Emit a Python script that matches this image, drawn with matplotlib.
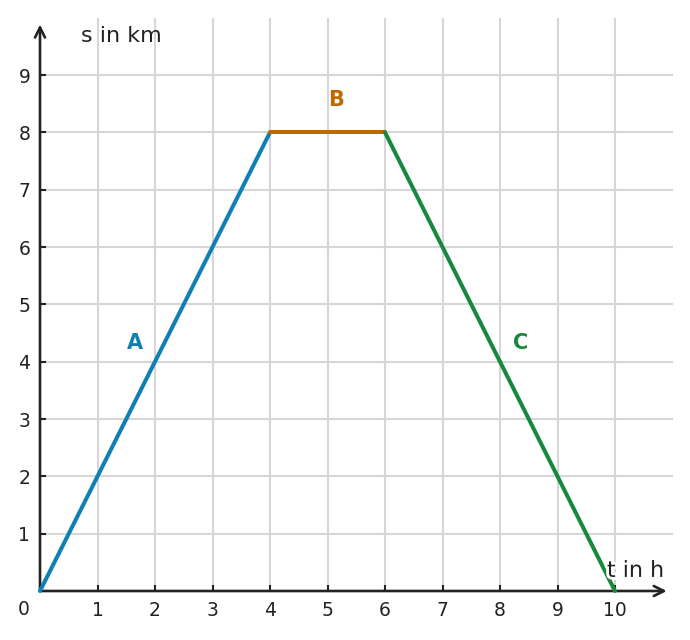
import matplotlib
matplotlib.use('Agg')
import matplotlib.pyplot as plt
import matplotlib.patheffects as pe

# Dados: trechos do movimento (tempo em h, distância em km)
t_a = [0, 4]
s_a = [0, 8]
t_b = [4, 6]
s_b = [8, 8]
t_c = [6, 10]
s_c = [8, 0]

x_ticks = [1, 2, 3, 4, 5, 6, 7, 8, 9, 10]
y_ticks = [1, 2, 3, 4, 5, 6, 7, 8, 9]

col_a = '#0f80b4'
col_b = '#bd6b00'
col_c = '#17883f'
axis_col = '#222222'

fig = plt.figure(figsize=(6.9, 6.4), dpi=100)
ax = fig.add_axes([40 / 690, 49 / 640, 632.5 / 690, 573.3 / 640])
ax.set_xlim(0, 11)
ax.set_ylim(0, 10)

for s in ax.spines.values():
    s.set_visible(False)

ax.set_xticks(x_ticks)
ax.set_yticks(y_ticks)
ax.tick_params(direction='in', length=4, width=1.5, color=axis_col,
               labelsize=13.5, labelcolor=axis_col, pad=7)
ax.grid(True, color='#d6d6d6', linewidth=1.5)
ax.set_axisbelow(True)

# Eixos com setas
ax.annotate('', xy=(10.9, 0), xytext=(0, 0), annotation_clip=False,
            arrowprops=dict(arrowstyle='->', color=axis_col, lw=1.9,
                            mutation_scale=18, shrinkA=0, shrinkB=0))
ax.annotate('', xy=(0, 9.88), xytext=(0, 0), annotation_clip=False,
            arrowprops=dict(arrowstyle='->', color=axis_col, lw=1.9,
                            mutation_scale=18, shrinkA=0, shrinkB=0))

lw = 2.9
ax.plot(t_a, s_a, color=col_a, lw=lw, solid_capstyle='round', zorder=3, clip_on=False)
ax.plot(t_b, s_b, color=col_b, lw=lw, solid_capstyle='round', zorder=3, clip_on=False)
ax.plot(t_c, s_c, color=col_c, lw=lw, solid_capstyle='round', zorder=3, clip_on=False)

ax.text(1.65, 4.33, 'A', color=col_a, fontsize=15, fontweight='bold', ha='center', va='center')
ax.text(5.15, 8.56, 'B', color=col_b, fontsize=15, fontweight='bold', ha='center', va='center')
ax.text(8.35, 4.33, 'C', color=col_c, fontsize=15, fontweight='bold', ha='center', va='center')

ax.text(0.71, 9.68, 's in km', fontsize=16, color=axis_col, ha='left', va='center')
ax.text(9.86, 0.35, 't in h', fontsize=16, color=axis_col, ha='left', va='center', zorder=4,
        path_effects=[pe.withStroke(linewidth=4, foreground='white')])
ax.text(-0.28, -0.33, '0', fontsize=13.5, color=axis_col, ha='center', va='center')

fig.savefig('out.png', dpi=100)
